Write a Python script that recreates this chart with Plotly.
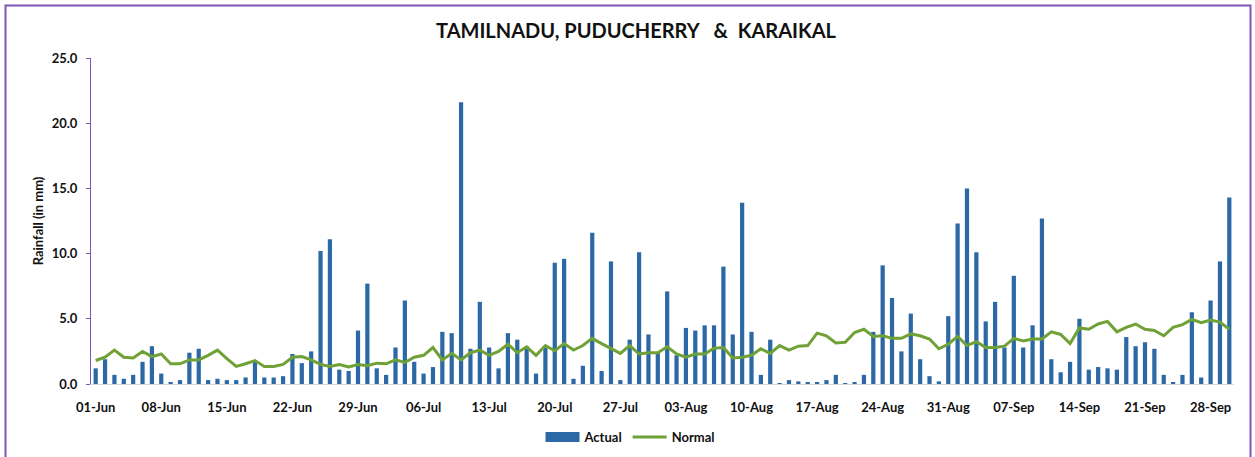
import pandas as pd
import plotly.graph_objects as go

# Daily rainfall (mm), 01-Jun to 30-Sep
dates = pd.date_range("2023-06-01", "2023-09-30", freq="D")

actual = [
    # June
    1.2, 1.9, 0.7, 0.4, 0.7, 1.7, 2.9, 0.8, 0.1, 0.3, 2.4, 2.7, 0.3, 0.4, 0.3,
    0.3, 0.5, 1.8, 0.5, 0.5, 0.6, 2.3, 1.6, 2.5, 10.2, 11.1, 1.1, 1.0, 4.1, 7.7,
    # July
    1.2, 0.7, 2.8, 6.4, 1.7, 0.8, 1.3, 4.0, 3.9, 21.6, 2.7, 6.3, 2.8, 1.2, 3.9,
    3.4, 2.9, 0.8, 2.8, 9.3, 9.6, 0.4, 1.4, 11.6, 1.0, 9.4, 0.3, 3.4, 10.1, 3.8, 2.4,
    # August
    7.1, 2.2, 4.3, 4.1, 4.5, 4.5, 9.0, 3.8, 13.9, 4.0, 0.7, 3.4, 0.05, 0.3, 0.2,
    0.1, 0.1, 0.3, 0.7, 0.05, 0.1, 0.7, 4.0, 9.1, 6.6, 2.5, 5.4, 1.9, 0.6, 0.2, 5.2,
    # September
    12.3, 15.0, 10.1, 4.8, 6.3, 2.8, 8.3, 2.8, 4.5, 12.7, 1.9, 0.9, 1.7, 5.0, 1.1,
    1.3, 1.2, 1.1, 3.6, 2.9, 3.2, 2.7, 0.7, 0.1, 0.7, 5.5, 0.5, 6.4, 9.4, 14.3,
]

normal = [
    # June
    1.8, 2.05, 2.6, 2.05, 2.0, 2.5, 2.1, 2.3, 1.55, 1.55, 1.85, 1.85, 2.2, 2.6, 1.95,
    1.35, 1.55, 1.8, 1.35, 1.35, 1.5, 2.05, 2.1, 1.85, 1.5, 1.35, 1.5, 1.3, 1.5, 1.4,
    # July
    1.6, 1.55, 1.85, 1.65, 2.05, 2.2, 2.8, 1.85, 2.35, 1.85, 2.4, 2.6, 2.2, 2.5, 3.05,
    2.4, 2.85, 2.2, 2.95, 2.55, 3.1, 2.6, 2.95, 3.5, 3.1, 2.7, 2.35, 2.95, 2.3, 2.4, 2.4,
    # August
    2.85, 2.3, 2.05, 2.3, 2.3, 2.75, 2.8, 2.0, 2.05, 2.2, 2.7, 2.35, 2.95, 2.6, 2.9,
    2.95, 3.9, 3.7, 3.15, 3.2, 3.95, 4.2, 3.65, 3.7, 3.5, 3.5, 3.85, 3.7, 3.45, 2.7, 3.05,
    # September
    3.65, 2.95, 3.25, 2.8, 2.8, 2.9, 3.5, 3.3, 3.45, 3.45, 4.0, 3.8, 3.1, 4.3, 4.2,
    4.6, 4.8, 4.0, 4.35, 4.6, 4.2, 4.1, 3.7, 4.35, 4.55, 4.95, 4.7, 4.9, 4.75, 4.2,
]

NB = "\u00a0"
title_text = "TAMILNADU, PUDUCHERRY" + NB * 3 + "&" + NB * 2 + "KARAIKAL"
y_title = "Rainfall (in mm)"

FONT = "Lato"
PURPLE = "#8055b8"
BLUE = "#2c68a6"
GREEN = "#6fa136"
INK = "#111111"

DAY_MS = 86400000

fig = go.Figure()
fig.add_trace(go.Bar(
    x=dates, y=actual, name="Actual", showlegend=False,
    marker=dict(color=BLUE, line=dict(width=0)),
    width=DAY_MS * 0.45,
))
# legend key for the bars: a wide flat block
fig.add_trace(go.Scatter(
    x=[None], y=[None], name="<b>Actual</b>", mode="lines",
    line=dict(color=BLUE, width=10),
))
fig.add_trace(go.Scatter(
    x=dates, y=normal, name="<b>Normal</b>", mode="lines",
    line=dict(color=GREEN, width=3),
))

W, H = 1255, 457
ml, mr, mt, mb = 91, 21, 58, 73
pw, ph = W - ml - mr, H - mt - mb


def px_to_paper(px, py):
    return (px - ml) / pw, (H - mb - py) / ph


# outer frame: its lower edge sits below the visible page
x0, y0 = px_to_paper(5.5, 470)
x1, y1 = px_to_paper(1250.5, 5.5)

fig.update_layout(
    width=W, height=H,
    margin=dict(l=ml, r=mr, t=mt, b=mb, autoexpand=False),
    paper_bgcolor="white", plot_bgcolor="white",
    font=dict(family=FONT, color=INK, size=12),
    title=dict(text="<b>" + title_text + "</b>", x=(636 - ml) / pw, xref="paper",
               xanchor="center", y=1 - 31 / H, yanchor="middle",
               font=dict(family=FONT, size=20, color=INK)),
    showlegend=True,
    legend=dict(orientation="h", x=(630 - ml) / pw, xanchor="center",
                y=px_to_paper(0, 437)[1], yanchor="middle",
                font=dict(family=FONT, size=13, color=INK),
                bgcolor="rgba(0,0,0,0)", itemwidth=34),
    bargap=0.55,
    shapes=[dict(type="rect", xref="paper", yref="paper",
                 x0=x0, y0=y0, x1=x1, y1=y1,
                 line=dict(color=PURPLE, width=2), fillcolor="rgba(0,0,0,0)",
                 layer="below")],
)

fig.update_xaxes(
    type="date",
    range=[dates[0] - pd.Timedelta(hours=12), dates[-1] + pd.Timedelta(hours=12)],
    tick0=dates[0], dtick=7 * DAY_MS, tickformat="%d-%b",
    showgrid=False, showline=True, linecolor="#d9d9d9", linewidth=1,
    ticks="", ticklabelstandoff=11,
    tickfont=dict(family=FONT, size=13, color=INK, weight="bold"),
    zeroline=False,
)
fig.update_yaxes(
    range=[0, 25], dtick=5, tickformat=".1f",
    showgrid=False, showline=True, linecolor=PURPLE, linewidth=1,
    ticks="outside", ticklen=4, tickcolor=PURPLE, ticklabelstandoff=6,
    tickfont=dict(family=FONT, size=13, color=INK, weight="bold"),
    title=dict(text="<b>" + y_title + "</b>", standoff=5,
               font=dict(family=FONT, size=13, color=INK)),
    zeroline=False,
)

fig.write_html("out.html")
